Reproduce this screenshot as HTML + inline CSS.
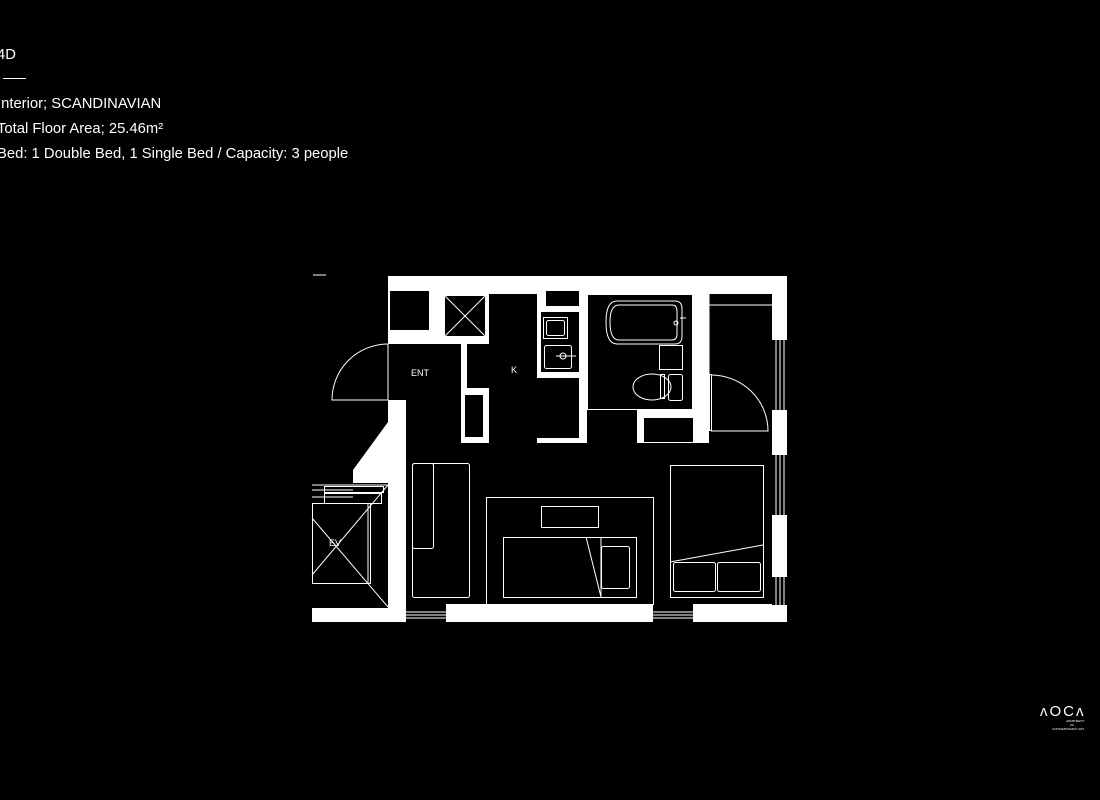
<!DOCTYPE html>
<html><head><meta charset="utf-8"><style>
html,body{margin:0;padding:0;background:#000;width:1100px;height:800px;overflow:hidden}
.t{position:absolute;left:-3px;color:#fff;font-family:"Liberation Sans",sans-serif;font-size:14.8px;line-height:16px;white-space:nowrap}
</style></head><body>
<div class="t" style="top:47px">4D</div>
<div style="position:absolute;left:3px;top:78px;width:23px;height:1px;background:#fff"></div>
<div class="t" style="top:96px">Interior; SCANDINAVIAN</div>
<div class="t" style="top:121px">Total Floor Area; 25.46m²</div>
<div class="t" style="top:146px">Bed: 1 Double Bed, 1 Single Bed / Capacity: 3 people</div>
<svg width="1100" height="800" style="position:absolute;left:0;top:0" xmlns="http://www.w3.org/2000/svg">
<g fill="#fff">
<line x1="313" y1="275" x2="326" y2="275" stroke="#fff" stroke-width="1"/>
<rect x="388" y="276" width="399" height="18"/>
<rect x="388" y="276" width="44" height="68"/>
<rect x="432" y="294" width="57" height="50"/>
<rect x="388" y="337" width="101" height="7"/>
<rect x="461" y="344" width="6" height="46"/>
<rect x="461" y="388" width="28" height="55"/>
<rect x="537" y="276" width="50" height="36"/>
<rect x="537" y="294" width="4" height="84"/>
<rect x="537" y="372" width="46" height="6"/>
<rect x="537" y="438" width="46" height="5"/>
<rect x="579" y="276" width="8" height="167"/>
<rect x="587" y="276" width="122" height="18"/>
<rect x="693" y="276" width="16" height="167"/>
<rect x="637" y="410" width="72" height="33"/>
<rect x="772" y="276" width="15" height="64"/>
<rect x="772" y="410" width="15" height="45"/>
<rect x="772" y="515" width="15" height="62"/>
<rect x="388" y="400" width="18" height="222"/>
<polygon points="388,422 353,470 353,483 388,483"/>
<rect x="312" y="608" width="76" height="14"/>
<rect x="388" y="604" width="399" height="18"/>
</g>
<g fill="#000">
<rect x="390" y="291" width="39" height="39"/>
<rect x="444" y="295" width="42" height="42"/>
<rect x="546" y="291" width="33" height="15"/>
<rect x="541" y="312" width="38" height="60"/>
<rect x="464" y="394" width="20" height="44"/>
<rect x="587" y="294" width="106" height="116"/>
<rect x="643" y="418" width="50" height="24"/>
<rect x="772" y="340" width="15" height="70"/>
<rect x="772" y="455" width="15" height="60"/>
<rect x="772" y="577" width="15" height="28"/>
<rect x="406" y="604" width="40" height="18"/>
<rect x="653" y="604" width="40" height="18"/>
<rect x="709" y="294" width="63" height="12"/>
</g>
<g fill="none" stroke="#fff" stroke-width="1">
<rect x="444.5" y="295.5" width="41" height="41"/>
<line x1="445" y1="296" x2="485" y2="336"/><line x1="485" y1="296" x2="445" y2="336"/>
<rect x="464.5" y="394.5" width="19" height="43"/>
<rect x="543.5" y="317.5" width="24" height="21"/><rect x="546.5" y="320.5" width="18" height="15" rx="2"/>
<rect x="544.5" y="345.5" width="27" height="23" rx="2"/><circle cx="563" cy="356" r="3"/><line x1="556" y1="356" x2="576" y2="356"/>
<rect x="587.5" y="294.5" width="105" height="115"/>
<path d="M617 301 H675 Q682 301 682 309 V336 Q682 344 675 344 H617 Q606 344 606 322 Q606 301 617 301Z"/>
<path d="M619 305 H672 Q677 305 677 311 V334 Q677 340 672 340 H619 Q610 340 610 322 Q610 305 619 305Z"/>
<line x1="680" y1="318" x2="686" y2="318"/><circle cx="676" cy="323" r="2"/>
<rect x="659.5" y="345.5" width="23" height="24"/>
<ellipse cx="652" cy="387" rx="19" ry="13"/>
<rect x="660.5" y="374.5" width="4" height="24"/><rect x="668.5" y="374.5" width="14" height="26" rx="2"/>
<rect x="643.5" y="417.5" width="50" height="25"/>
<line x1="709" y1="282" x2="772" y2="282"/><line x1="709" y1="288" x2="772" y2="288"/><line x1="709" y1="305" x2="772" y2="305"/>
<line x1="709" y1="276" x2="709" y2="430"/>
<rect x="709.5" y="374.5" width="2" height="56"/>
<path d="M711 375 A57 56 0 0 1 768 431 H711"/>
<line x1="388" y1="344" x2="388" y2="400"/>
<path d="M388 344 A56 56 0 0 0 332 400 H388"/>
<line x1="776" y1="340" x2="776" y2="410"/><line x1="780" y1="340" x2="780" y2="410"/><line x1="784" y1="340" x2="784" y2="410"/>
<line x1="776" y1="455" x2="776" y2="515"/><line x1="780" y1="455" x2="780" y2="515"/><line x1="784" y1="455" x2="784" y2="515"/>
<line x1="776" y1="577" x2="776" y2="605"/><line x1="780" y1="577" x2="780" y2="605"/><line x1="784" y1="577" x2="784" y2="605"/>
<line x1="406" y1="612" x2="446" y2="612"/><line x1="406" y1="615" x2="446" y2="615"/><line x1="406" y1="618" x2="446" y2="618"/>
<line x1="653" y1="612" x2="693" y2="612"/><line x1="653" y1="615" x2="693" y2="615"/><line x1="653" y1="618" x2="693" y2="618"/>
<rect x="412.5" y="463.5" width="57" height="134" rx="2"/>
<rect x="412.5" y="463.5" width="21" height="85" rx="2"/>
<rect x="486.5" y="497.5" width="167" height="107"/>
<rect x="541.5" y="506.5" width="57" height="21"/>
<rect x="503.5" y="537.5" width="133" height="60"/>
<line x1="601" y1="537" x2="601" y2="597"/>
<line x1="586" y1="537" x2="601" y2="597"/>
<rect x="601.5" y="546.5" width="28" height="42" rx="2"/>
<rect x="670.5" y="465.5" width="93" height="132"/>
<line x1="670" y1="562" x2="763" y2="545"/>
<rect x="673.5" y="562.5" width="42" height="29" rx="2"/>
<rect x="717.5" y="562.5" width="43" height="29" rx="2"/>
<rect x="312.5" y="503.5" width="58" height="80"/>
<line x1="368" y1="503" x2="368" y2="583"/>
<line x1="312" y1="518" x2="388" y2="607"/><line x1="388" y1="485" x2="312" y2="575"/>
<rect x="324.5" y="486.5" width="59" height="6"/><rect x="324.5" y="493.5" width="57" height="10"/>
<line x1="312" y1="490" x2="353" y2="490"/><line x1="312" y1="497" x2="353" y2="497"/>
<line x1="312" y1="485" x2="388" y2="485"/>
</g>
<g fill="#fff" font-family="Liberation Sans, sans-serif" font-size="9">
<text x="411" y="376">ENT</text>
<text x="511" y="373">K</text>
<text x="329" y="546">EV</text>
</g>
<g fill="#fff" font-family="Liberation Sans, sans-serif">
<text x="1040" y="716" font-size="15" letter-spacing="2">ʌOCʌ</text>
<text x="1066" y="722" font-size="3">APARTMENT</text>
<text x="1070" y="726" font-size="3">OF</text>
<text x="1052" y="730" font-size="3">CONTEMPORARY ART</text>
</g>
</svg>
</body></html>
